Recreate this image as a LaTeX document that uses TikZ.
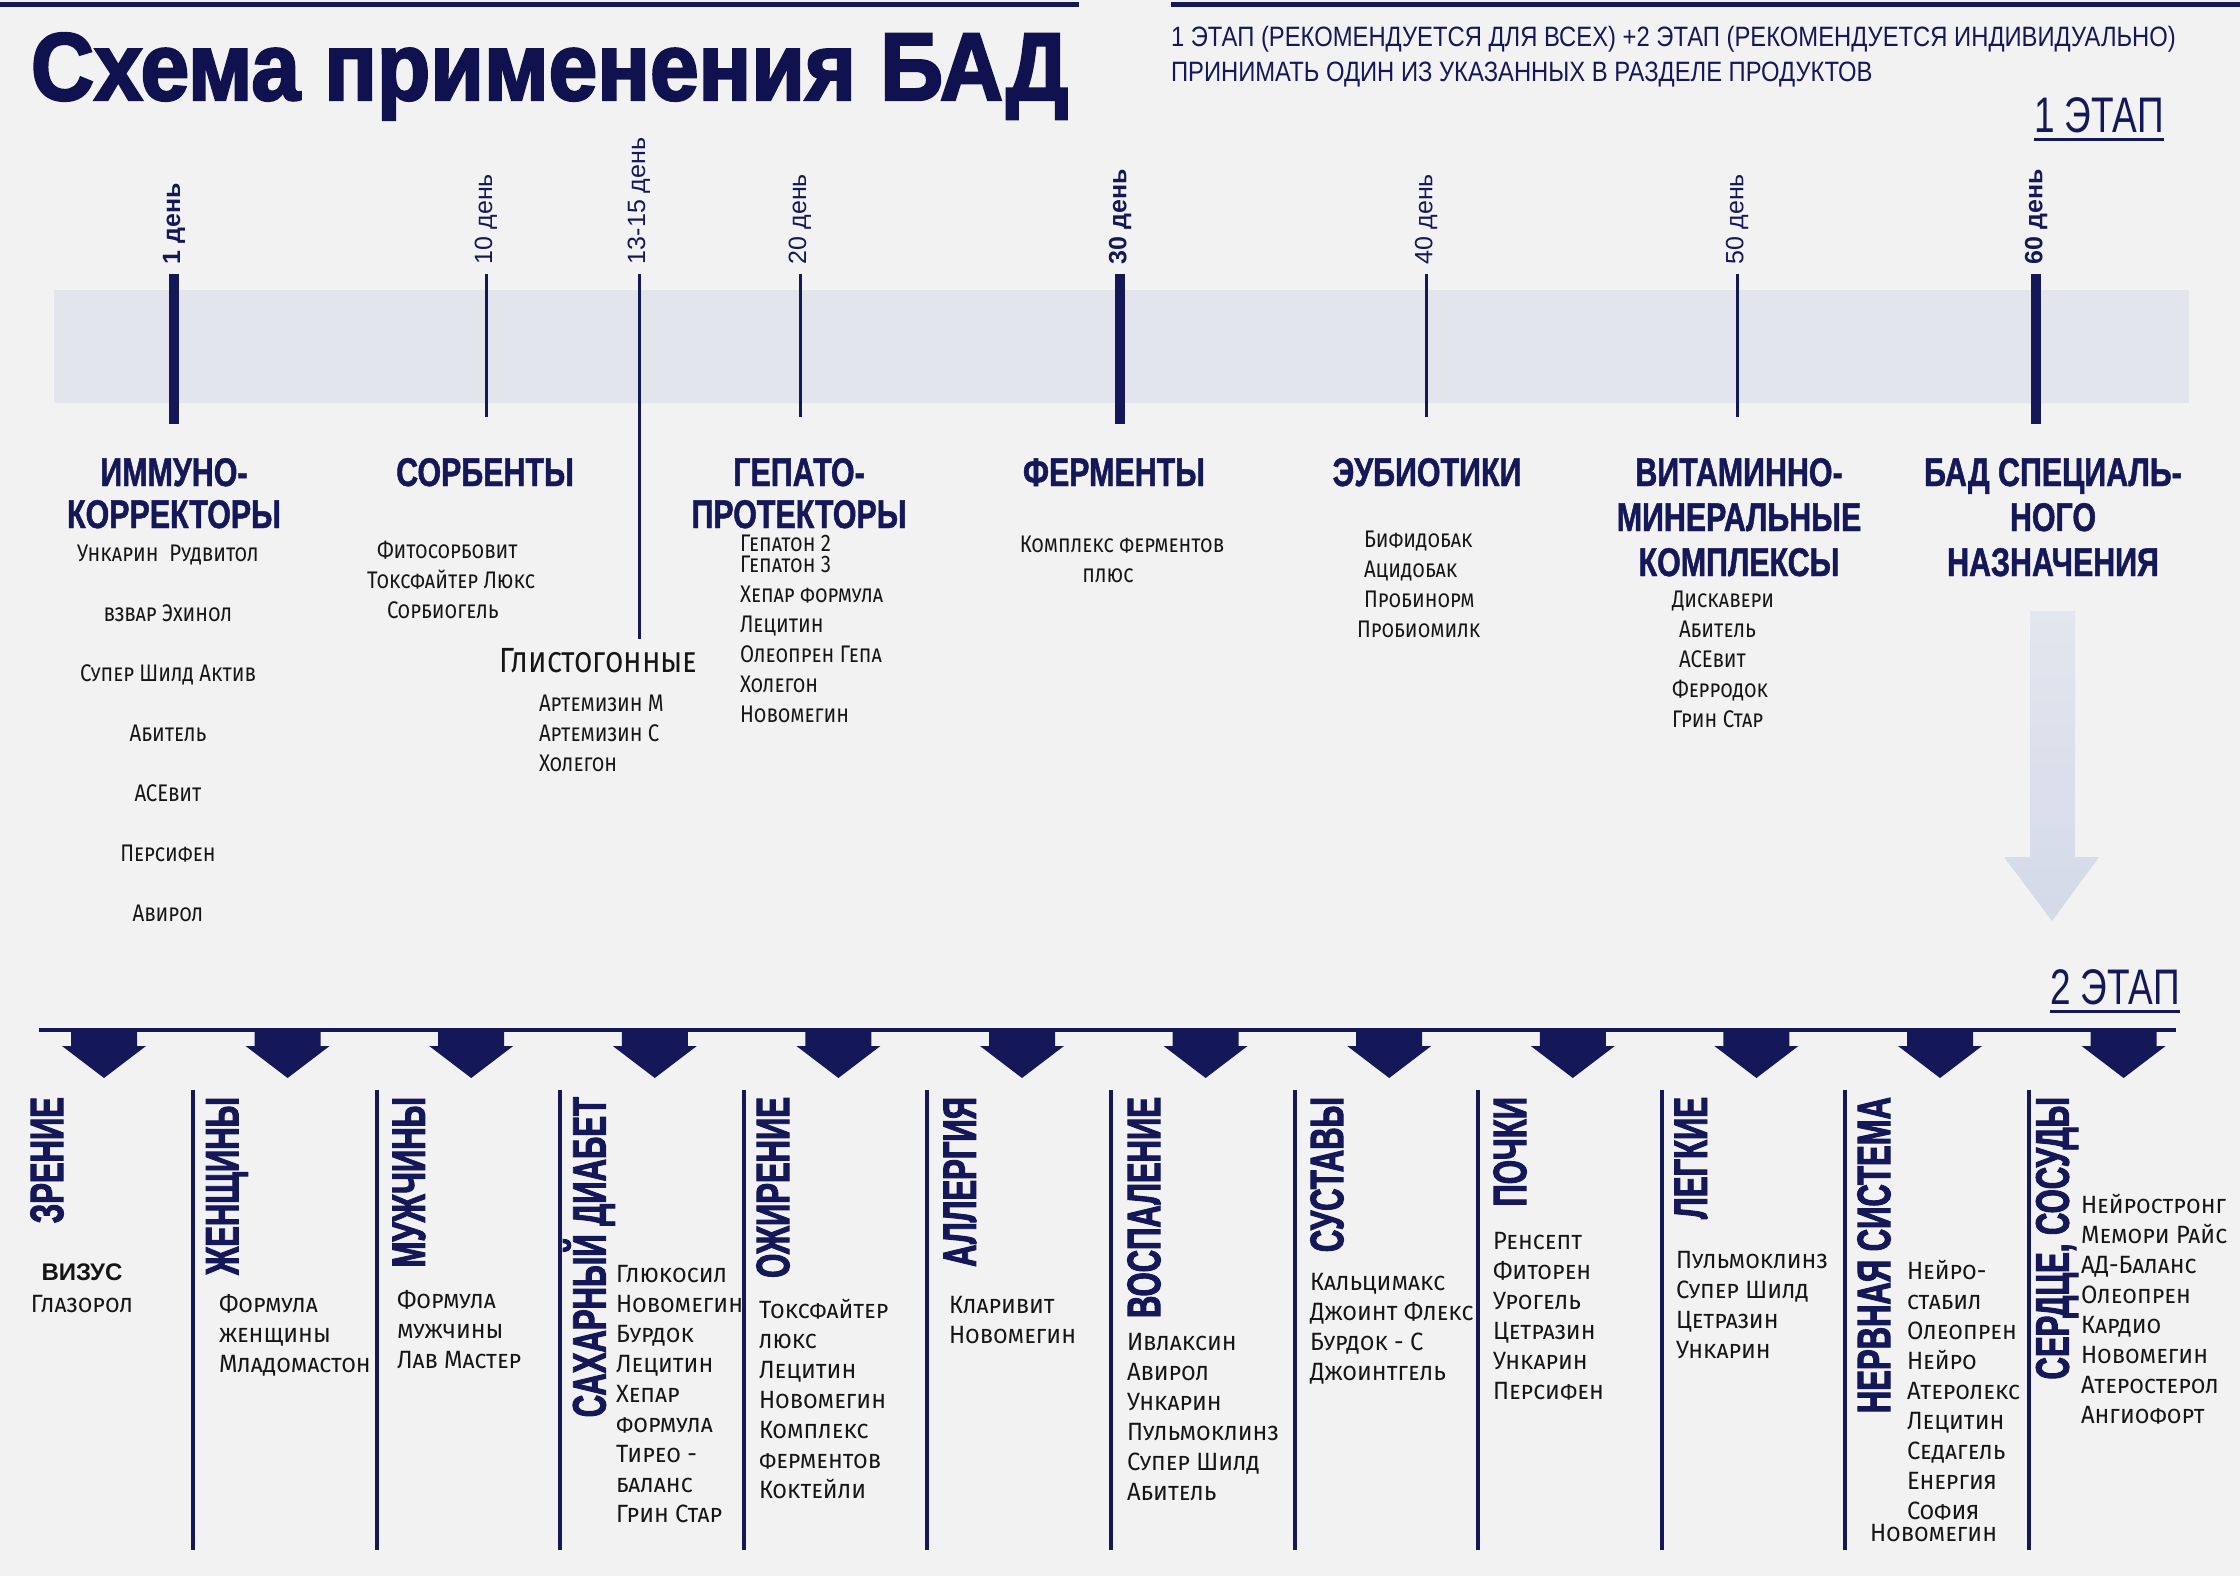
\documentclass[tikz,border=0pt]{standalone}
\usepackage{fontspec}
\setmainfont{Liberation Sans}
\newfontfamily\titlefont[FakeStretch=0.91,FakeBold=2.5]{Liberation Sans Bold}
\newfontfamily\hcond[FakeStretch=0.76,FakeBold=1.2]{Liberation Sans Bold}
\newfontfamily\vcond[FakeStretch=0.66,FakeBold=2]{Liberation Sans Bold}
\newfontfamily\subfont[FakeStretch=0.85]{Liberation Sans}
\newfontfamily\etapfont[FakeStretch=0.74]{Liberation Sans}
\newfontfamily\pfa[Letters=SmallCaps,FakeStretch=0.85]{Fira Sans}
\newfontfamily\pfb[Letters=SmallCaps,FakeStretch=0.95]{Fira Sans}
\definecolor{navy}{HTML}{151858}
\definecolor{tnavy}{HTML}{10124F}
\definecolor{bg}{HTML}{F2F2F2}
\definecolor{band}{HTML}{E2E5EB}
\definecolor{ink}{HTML}{151515}
\definecolor{arrtop}{HTML}{E2E6EE}
\definecolor{arrmid}{HTML}{D3DAE8}
\newcommand\plist[6]{%
  \foreach \t [count=\i from 0] in {#6} {
    \node[#2] (#1\i) at (#3, {#4+\i*#5}) {\t};
  }}
\begin{document}
\begin{tikzpicture}[x=1pt,y=-1pt,
  every node/.style={inner sep=0pt,outer sep=0pt},
  titlest/.style={font=\titlefont\fontsize{96}{110}\selectfont,text=tnavy,anchor=base west},
  sub/.style={font=\subfont\fontsize{28}{32}\selectfont,text=navy,anchor=base west},
  etap/.style={font=\etapfont\fontsize{50}{56}\selectfont,text=navy,anchor=base west},
  day/.style={font=\fontsize{25}{28}\selectfont,text=navy,rotate=90,anchor=west},
  dayb/.style={day,font=\bfseries\fontsize{25}{28}\selectfont},
  head/.style={font=\hcond\fontsize{40}{44}\selectfont,text=navy,anchor=base},
  vhead/.style={font=\vcond\fontsize{47}{50}\selectfont,text=navy,rotate=90,anchor=east},
  pa/.style={font=\pfa\fontsize{24}{28}\selectfont,text=ink,anchor=base west},
  pac/.style={pa,anchor=base},
  pb/.style={font=\pfb\fontsize{25}{30}\selectfont,text=ink,anchor=base west},
  pbc/.style={pb,anchor=base},
  tickB/.style={draw=navy,line width=10pt},
  tickT/.style={draw=navy,line width=3pt},
  sep/.style={draw=navy,line width=4pt},
]
\useasboundingbox (0,0) rectangle (2240,1576);
\fill[bg] (0,0) rectangle (2240,1576);
% top rule
\draw[navy,line width=5pt] (0,5) -- (1079,5);
\draw[navy,line width=5pt] (1171,5) -- (2240,5);
% title
\node[titlest] (title) at (31,100) {Схема применения БАД};
\node[sub] (sub1) at (1171,47) {1 ЭТАП (РЕКОМЕНДУЕТСЯ ДЛЯ ВСЕХ) +2 ЭТАП (РЕКОМЕНДУЕТСЯ ИНДИВИДУАЛЬНО)};
\node[sub] (sub2) at (1171,82) {ПРИНИМАТЬ ОДИН ИЗ УКАЗАННЫХ В РАЗДЕЛЕ ПРОДУКТОВ};
\node[etap] (e1) at (2034,133) {1 ЭТАП};
\draw[navy,line width=3pt] ([yshift=-7pt]e1.base west) -- ([yshift=-7pt]e1.base east);
% band
\fill[band] (54,290) rectangle (2189,403);
% ticks
\coordinate (t1a) at (174,274);  \coordinate (t1b) at (174,424);
\coordinate (t2a) at (486,274);  \coordinate (t2b) at (486,417);
\coordinate (t3a) at (639,274);  \coordinate (t3b) at (639,639);
\coordinate (t4a) at (800,274);  \coordinate (t4b) at (800,417);
\coordinate (t5a) at (1120,274); \coordinate (t5b) at (1120,424);
\coordinate (t6a) at (1426,274); \coordinate (t6b) at (1426,417);
\coordinate (t7a) at (1737,274); \coordinate (t7b) at (1737,417);
\coordinate (t8a) at (2036,274); \coordinate (t8b) at (2036,424);
\draw[tickB] (t1a) -- (t1b);
\draw[tickT] (t2a) -- (t2b);
\draw[tickT] (t3a) -- (t3b);
\draw[tickT] (t4a) -- (t4b);
\draw[tickB] (t5a) -- (t5b);
\draw[tickT] (t6a) -- (t6b);
\draw[tickT] (t7a) -- (t7b);
\draw[tickB] (t8a) -- (t8b);
\node[dayb] (d1) at (174,264) {1 день};
\node[day] (d2) at (486,264) {10 день};
\node[day] (d3) at (639,264) {13-15 день};
\node[day] (d4) at (800,264) {20 день};
\node[dayb] (d5) at (1120,264) {30 день};
\node[day] (d6) at (1426,264) {40 день};
\node[day] (d7) at (1737,264) {50 день};
\node[dayb] (d8) at (2036,264) {60 день};
% stage 1 headings
\node[head] (h1a) at (174,486) {ИММУНО-};
\node[head] (h1b) at (174,528) {КОРРЕКТОРЫ};
\node[head] (h2) at (485,486) {СОРБЕНТЫ};
\node[head] (h3a) at (799,486) {ГЕПАТО-};
\node[head] (h3b) at (799,528) {ПРОТЕКТОРЫ};
\node[head] (h4) at (1114,486) {ФЕРМЕНТЫ};
\node[head] (h5) at (1427,486) {ЭУБИОТИКИ};
\node[head] (h6a) at (1739,486) {ВИТАМИННО-};
\node[head] (h6b) at (1739,531) {МИНЕРАЛЬНЫЕ};
\node[head] (h6c) at (1739,576) {КОМПЛЕКСЫ};
\node[head] (h7a) at (2053,486) {БАД СПЕЦИАЛЬ-};
\node[head] (h7b) at (2053,531) {НОГО};
\node[head] (h7c) at (2053,576) {НАЗНАЧЕНИЯ};
% stage 1 lists
\plist{im}{pac}{168}{561}{60}{Ункарин\ \ Рудвитол,взвар Эхинол,Супер Шилд Актив,Абитель,АСЕвит,Персифен,Авирол}
\node[pa] (so0) at (377,558) {Фитосорбовит};
\node[pa] (so1) at (367,588) {Токсфайтер Люкс};
\node[pa] (so2) at (387,618) {Сорбиогель};
\node[pa,font=\pfa\fontsize{35}{38}\selectfont] (gl) at (499,672) {Глистогонные};
\plist{gl}{pa}{539}{711}{30}{Артемизин М,Артемизин С,Холегон}
\node[pa] (gp0) at (740,551) {Гепатон 2};
\plist{gp}{pa}{740}{572}{30}{Гепатон 3,Хепар формула,Лецитин,Олеопрен Гепа,Холегон,Новомегин}
\node[pac] (fe0) at (1122,552) {Комплекс ферментов};
\node[pac] (fe1) at (1108,582) {плюс};
\plist{eu}{pa}{1364}{547}{30}{Бифидобак,Ацидобак,Пробинорм}
\node[pa] (eu3) at (1357,637) {Пробиомилк};
\node[pa] (vm0) at (1672,607) {Дискавери};
\node[pa] (vm1) at (1679,637) {Абитель};
\node[pa] (vm2) at (1679,667) {АСЕвит};
\node[pa] (vm3) at (1672,697) {Ферродок};
\node[pa] (vm4) at (1672,727) {Грин Стар};
% big faint arrow
\shade[top color=arrtop,bottom color=arrmid] (2030,611) -- (2075,611) -- (2075,857) -- (2099,857) -- (2052,921) -- (2004,857) -- (2030,857) -- cycle;
% stage 2
\node[etap] (e2) at (2050,1004) {2 ЭТАП};
\draw[navy,line width=3pt] ([yshift=-7pt]e2.base west) -- ([yshift=-7pt]e2.base east);
\coordinate (s2l) at (39,1030);
\coordinate (s2r) at (2176,1030);
\draw[navy,line width=4pt] (s2l) -- (s2r);
\foreach \k in {0,...,11} {
  \pgfmathsetmacro\cx{104+183.6*\k}
  \fill[navy] (\cx-33,1030) -- (\cx+33,1030) -- (\cx+33,1046) -- (\cx+42,1046) -- (\cx,1078) -- (\cx-42,1046) -- (\cx-33,1046) -- cycle;
}
\foreach \k in {0,...,10} {
  \pgfmathsetmacro\sx{193+183.6*\k}
  \draw[sep] (\sx,1090) -- (\sx,1550);
}
\node[vhead] (v1) at (47,1097) {ЗРЕНИЕ};
\node[vhead] (v2) at (227,1097) {ЖЕНЩИНЫ};
\node[vhead] (v3) at (409,1097) {МУЖЧИНЫ};
\node[vhead] (v4) at (589,1097) {САХАРНЫЙ ДИАБЕТ};
\node[vhead] (v5) at (773,1097) {ОЖИРЕНИЕ};
\node[vhead] (v6) at (960,1097) {АЛЛЕРГИЯ};
\node[vhead] (v7) at (1144,1097) {ВОСПАЛЕНИЕ};
\node[vhead] (v8) at (1327,1097) {СУСТАВЫ};
\node[vhead] (v9) at (1510,1097) {ПОЧКИ};
\node[vhead] (v10) at (1691,1097) {ЛЕГКИЕ};
\node[vhead] (v11) at (1874,1097) {НЕРВНАЯ СИСТЕМА};
\node[vhead] (v12) at (2057,1097) {СЕРДЦЕ, СОСУДЫ};
% stage 2 lists
\node[pbc,font=\bfseries\fontsize{24}{28}\selectfont] (zr0) at (82,1280) {ВИЗУС};
\node[pbc] (zr1) at (82,1312) {Глазорол};
\plist{zh}{pb}{219}{1312}{30}{Формула,женщины,Младомастон}
\plist{mu}{pb}{397}{1308}{30}{Формула,мужчины,Лав Мастер}
\plist{sd}{pb}{616}{1282}{30}{Глюкосил,Новомегин,Бурдок,Лецитин,Хепар,формула,Тирео -,баланс,Грин Стар}
\plist{oz}{pb}{759}{1318}{30}{Токсфайтер,люкс,Лецитин,Новомегин,Комплекс,ферментов,Коктейли}
\plist{al}{pb}{949}{1313}{30}{Кларивит,Новомегин}
\plist{vo}{pb}{1127}{1350}{30}{Ивлаксин,Авирол,Ункарин,Пульмоклинз,Супер Шилд,Абитель}
\plist{su}{pb}{1310}{1290}{30}{Кальцимакс,Джоинт Флекс,Бурдок - С,Джоинтгель}
\plist{po}{pb}{1493}{1249}{30}{Ренсепт,Фиторен,Урогель,Цетразин,Ункарин,Персифен}
\plist{le}{pb}{1676}{1268}{30}{Пульмоклинз,Супер Шилд,Цетразин,Ункарин}
\plist{ne}{pb}{1907}{1279}{30}{Нейро-,стабил,Олеопрен,Нейро,Атеролекс,Лецитин,Седагель,Енергия,София}
\node[pb] (ne9) at (1870,1541) {Новомегин};
\plist{se}{pb}{2081}{1213}{30}{Нейростронг,Мемори Райс,АД-Баланс,Олеопрен,Кардио,Новомегин,Атеростерол,Ангиофорт}
\end{tikzpicture}
\end{document}
